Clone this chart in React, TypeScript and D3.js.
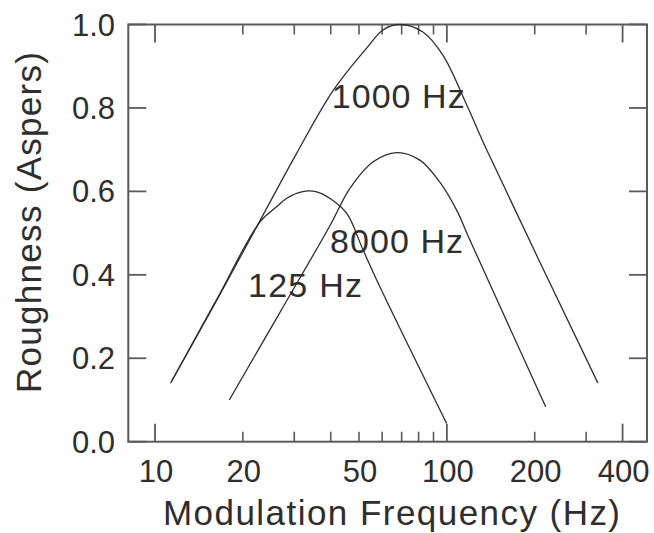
import React from "react";
import * as d3 from "d3";

const xTickMajor = [10, 100, 400];
const xTickMinor = [20, 30, 40, 50, 60, 70, 80, 90, 200, 300];
const xTickLabels = [10, 20, 50, 100, 200, 400];
const yTicks = [0, 0.2, 0.4, 0.6, 0.8, 1.0];

const freq1000 = [11.4, 16.3, 22.9, 30.5, 40.8, 53.2, 60.4, 69, 82.8, 96.8, 117, 137, 329];
const rough1000 = [0.145, 0.34, 0.53, 0.69, 0.842, 0.944, 0.987, 1.0, 0.982, 0.927, 0.807, 0.699, 0.141];

const freq125 = [11.3, 16.1, 22.9, 26.1, 28.2, 31.8, 35.8, 39.8, 45.4, 51.6, 59.0, 99.8];
const rough125 = [0.14, 0.335, 0.527, 0.563, 0.583, 0.599, 0.599, 0.583, 0.547, 0.46, 0.371, 0.044];

const freq8000 = [17.97, 26.8, 39.7, 46.6, 55.9, 67.3, 80.8, 94.6, 108, 120, 218];
const rough8000 = [0.1, 0.31, 0.517, 0.608, 0.671, 0.693, 0.675, 0.622, 0.555, 0.483, 0.084];

const seriesLabels = ["1000  Hz", "8000  Hz", "125  Hz"];

const W = 654;
const H = 533;
const left = 128.3;
const right = 647;
const top = 24.5;
const bottom = 441.7;

const font = "'Liberation Sans', Arial, sans-serif";
const ink = "#2e2e2e";
const axisColor = "#5a5a5a";

export default function App() {
  const x = d3.scaleLog().domain([8.1, 485]).range([left, right]);
  const y = d3.scaleLinear().domain([0, 1]).range([bottom, top]);
  const line = d3
    .line<[number, number]>()
    .x((d) => x(d[0]))
    .y((d) => y(d[1]))
    .curve(d3.curveCatmullRom.alpha(0.5));

  const series = [
    { f: freq1000, r: rough1000 },
    { f: freq125, r: rough125 },
    { f: freq8000, r: rough8000 },
  ];

  const labelPos = [
    { x: 331.7, y: 108, len: 133 },
    { x: 330, y: 253, len: 133 },
    { x: 248, y: 297, len: 114 },
  ];

  return (
    <svg
      width={W}
      height={H}
      style={{ position: "absolute", left: 0, top: 0, background: "#fff" }}
    >
      <rect
        x={left}
        y={top}
        width={right - left}
        height={bottom - top}
        fill="none"
        stroke={axisColor}
        strokeWidth={2}
      />
      {xTickMajor.map((t) => (
        <g key={"M" + t}>
          <line x1={x(t)} x2={x(t)} y1={bottom} y2={bottom - 18} stroke={axisColor} strokeWidth={1.8} />
          <line x1={x(t)} x2={x(t)} y1={top} y2={top + 18} stroke={axisColor} strokeWidth={1.8} />
        </g>
      ))}
      {xTickMinor.map((t) => (
        <g key={"m" + t}>
          <line x1={x(t)} x2={x(t)} y1={bottom} y2={bottom - 10} stroke={axisColor} strokeWidth={1.6} />
          <line x1={x(t)} x2={x(t)} y1={top} y2={top + 10} stroke={axisColor} strokeWidth={1.6} />
        </g>
      ))}
      {yTicks.map((t) => (
        <g key={"y" + t}>
          <line x1={left} x2={left + 18} y1={y(t)} y2={y(t)} stroke={axisColor} strokeWidth={1.8} />
          <line x1={right} x2={right - 18} y1={y(t)} y2={y(t)} stroke={axisColor} strokeWidth={1.8} />
          <text
            x={115}
            y={y(t) + 11}
            textAnchor="end"
            fontFamily={font}
            fontSize={31}
            fill={ink}
          >
            {t.toFixed(1)}
          </text>
        </g>
      ))}
      {xTickLabels.map((t) => (
        <text
          key={"xl" + t}
          x={x(t) + 1}
          y={482}
          textAnchor="middle"
          fontFamily={font}
          fontSize={31}
          fill={ink}
        >
          {t}
        </text>
      ))}
      {series.map((s, i) => (
        <path
          key={"s" + i}
          d={line(s.f.map((f, j) => [f, s.r[j]] as [number, number])) || ""}
          fill="none"
          stroke={ink}
          strokeWidth={1.3}
        />
      ))}
      {seriesLabels.map((l, i) => (
        <text
          key={"l" + i}
          x={labelPos[i].x}
          y={labelPos[i].y}
          fontFamily={font}
          fontSize={34}
          fill={ink}
          textLength={labelPos[i].len}
          lengthAdjust="spacing"
        >
          {l}
        </text>
      ))}
      <text
        x={391.5}
        y={525}
        textAnchor="middle"
        fontFamily={font}
        fontSize={35}
        fill={ink}
        textLength={457}
        lengthAdjust="spacing"
      >
        Modulation Frequency (Hz)
      </text>
      <text
        transform={`translate(41, 222.5) rotate(-90)`}
        textAnchor="middle"
        fontFamily={font}
        fontSize={35}
        fill={ink}
        textLength={341}
        lengthAdjust="spacing"
      >
        Roughness  (Aspers)
      </text>
    </svg>
  );
}
